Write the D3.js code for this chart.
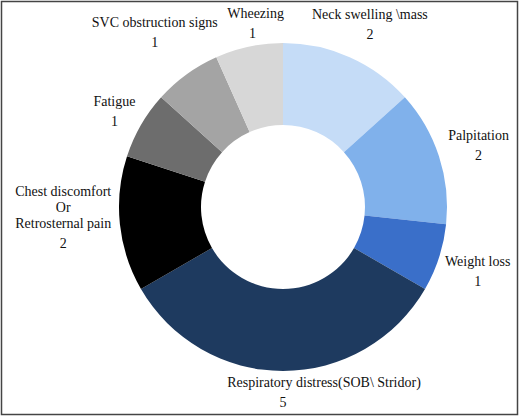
<!DOCTYPE html>
<html>
<head>
<meta charset="utf-8">
<script src="https://cdn.jsdelivr.net/npm/d3@7"></script>
<style>
  html, body { margin: 0; padding: 0; background: #fff; }
  svg { display: block; }
</style>
</head>
<body>
<svg id="chart" width="520" height="417"></svg>
<script>
const categories = [
  ["Neck swelling \\mass"],
  ["Palpitation"],
  ["Weight loss"],
  ["Respiratory distress(SOB\\ Stridor)"],
  ["Chest discomfort", "Or", "Retrosternal pain"],
  ["Fatigue"],
  ["SVC obstruction signs"],
  ["Wheezing"]
];
const values = [2, 2, 1, 5, 2, 1, 1, 1];
const colors = ["#c5dcf7", "#80b1eb", "#3a6fc9", "#1e3a5f", "#000000", "#6d6d6d", "#a4a4a4", "#d7d7d7"];

const FONT = "'Liberation Serif', 'Times New Roman', Times, 'DejaVu Serif', serif";
const FS = 14;
const W = 520, H = 417;
const cx = 283, cy = 207, R = 164, r0 = 82;
const svg = d3.select("#chart");

svg.append("rect").attr("x", 1.5).attr("y", 1.5).attr("width", W - 4).attr("height", H - 4)
  .attr("fill", "#fff").attr("stroke", "#444").attr("stroke-width", 1.5);

const data = categories.map((c, i) => ({ lines: c, value: values[i], color: colors[i] }));
const pie = d3.pie().value(d => d.value).sort(null);
const arc = d3.arc().innerRadius(r0).outerRadius(R);
const arcs = pie(data);

const g = svg.append("g").attr("transform", `translate(${cx},${cy})`);
g.selectAll("path.slice").data(arcs).join("path")
  .attr("class", "slice")
  .attr("d", arc)
  .attr("fill", d => d.data.color);

// labels (layout nudges for a few labels, as in the original figure)
const nudge = { 0: [3, 4], 1: [3, 0], 4: [-1, -14], 7: [9, 0] };
const lineH = 16, valGap = 20, pad = 5;
const measure = svg.append("text").attr("visibility", "hidden")
  .attr("font-family", FONT).attr("font-size", FS);
function textW(s) { measure.text(s); return measure.node().getComputedTextLength(); }

arcs.forEach((a, i) => {
  const lines = a.data.lines;
  const mid = (a.startAngle + a.endAngle) / 2;
  const s = Math.sin(mid), c = -Math.cos(mid);
  let w = d3.max(lines, textW);
  if (i === 3) w = 40; // label block narrow around value
  const h = (lines.length - 1) * lineH + valGap + 10;
  const dist = R + pad + Math.abs(s) * w / 2 + Math.abs(c) * h / 2;
  const [nx, ny] = nudge[i] || [0, 0];
  const x = s * dist + nx, y = c * dist + ny;
  const top = y - h / 2 + 11;
  const t = g.append("g").attr("font-family", FONT).attr("font-size", FS).attr("fill", "#111");
  lines.forEach((ln, k) => {
    t.append("text").attr("x", x + (i === 3 ? 41 : (i === 7 ? 3 : 0))).attr("y", top + k * lineH)
      .attr("text-anchor", "middle").text(ln);
  });
  t.append("text").attr("x", x).attr("y", top + (lines.length - 1) * lineH + valGap)
    .attr("text-anchor", "middle").text(a.data.value);
});
measure.remove();
</script>
</body>
</html>
